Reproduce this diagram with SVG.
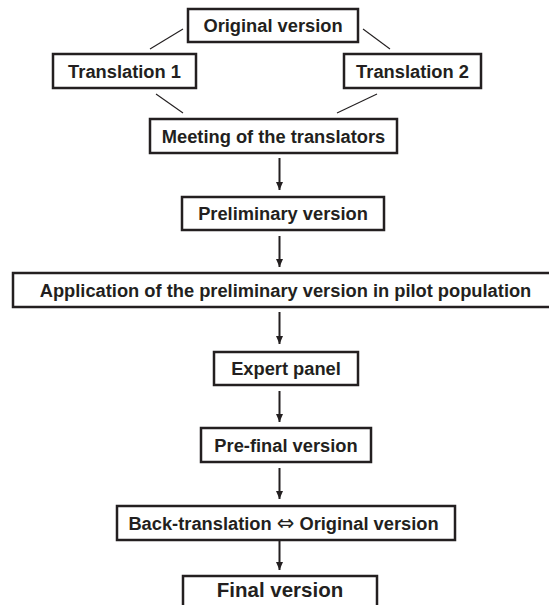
<svg xmlns="http://www.w3.org/2000/svg" width="549" height="605" viewBox="0 0 549 605">
<style>
.box{fill:#fff;stroke:#231f20;stroke-width:2.5}
.t{font-family:"Liberation Sans",Arial,"DejaVu Sans",sans-serif;font-weight:bold;font-size:18.3px;fill:#231f20;text-anchor:middle}
.diag{stroke:#231f20;stroke-width:1.1;fill:none}
.arr{stroke:#231f20;stroke-width:2;fill:none;marker-end:url(#ah)}
</style>
<defs>
<marker id="ah" markerUnits="userSpaceOnUse" markerWidth="8" markerHeight="9" refX="8" refY="3.5" orient="auto">
<path d="M0,0 L8,3.5 L0,7 z" fill="#231f20"/>
</marker>
</defs>
<rect width="549" height="605" fill="#fff"/>
<g id="connectors">
<line class="diag" x1="183" y1="29" x2="150" y2="49"/>
<line class="diag" x1="363" y1="29" x2="390" y2="49"/>
<line class="diag" x1="156" y1="94" x2="183" y2="113"/>
<line class="diag" x1="377" y1="94" x2="337" y2="113"/>
<line class="arr" x1="279.5" y1="158" x2="279.5" y2="190"/>
<line class="arr" x1="279.5" y1="236" x2="279.5" y2="267"/>
<line class="arr" x1="279.5" y1="312" x2="279.5" y2="344"/>
<line class="arr" x1="279.5" y1="391" x2="279.5" y2="422"/>
<line class="arr" x1="279.5" y1="468" x2="279.5" y2="499"/>
<line class="arr" x1="279.5" y1="540" x2="279.5" y2="570"/>
</g>
<g id="original">
<rect class="box" x="188" y="9" width="170" height="33"/>
<text class="t" x="273" y="32">Original version</text>
</g>
<g id="translation1">
<rect class="box" x="53" y="54" width="143" height="34"/>
<text class="t" x="124.5" y="77.5">Translation 1</text>
</g>
<g id="translation2">
<rect class="box" x="344" y="54" width="137" height="34"/>
<text class="t" x="412.5" y="77.5">Translation 2</text>
</g>
<g id="meeting">
<rect class="box" x="150" y="119" width="247" height="34"/>
<text class="t" x="273.5" y="142.5">Meeting of the translators</text>
</g>
<g id="preliminary">
<rect class="box" x="182" y="197" width="202" height="33"/>
<text class="t" x="283" y="220">Preliminary version</text>
</g>
<g id="application">
<rect class="box" x="13" y="273" width="548" height="34"/>
<text class="t" x="285.5" y="296.5">Application of the preliminary version in pilot population</text>
</g>
<g id="expert">
<rect class="box" x="214" y="352" width="144" height="33"/>
<text class="t" x="286" y="375">Expert panel</text>
</g>
<g id="prefinal">
<rect class="box" x="201" y="428" width="170" height="34"/>
<text class="t" x="286" y="451.5">Pre-final version</text>
</g>
<g id="backtranslation">
<rect class="box" x="117" y="506" width="338" height="34"/>
<text class="t" x="283.5" y="529.5">Back-translation <tspan font-weight="normal" font-family="'DejaVu Sans',sans-serif" font-size="21">⇔</tspan> Original version</text>
</g>
<g id="final">
<rect class="box" x="183" y="576" width="194" height="40"/>
<text class="t" x="280" y="597" style="font-size:20.5px">Final version</text>
</g>
</svg>
